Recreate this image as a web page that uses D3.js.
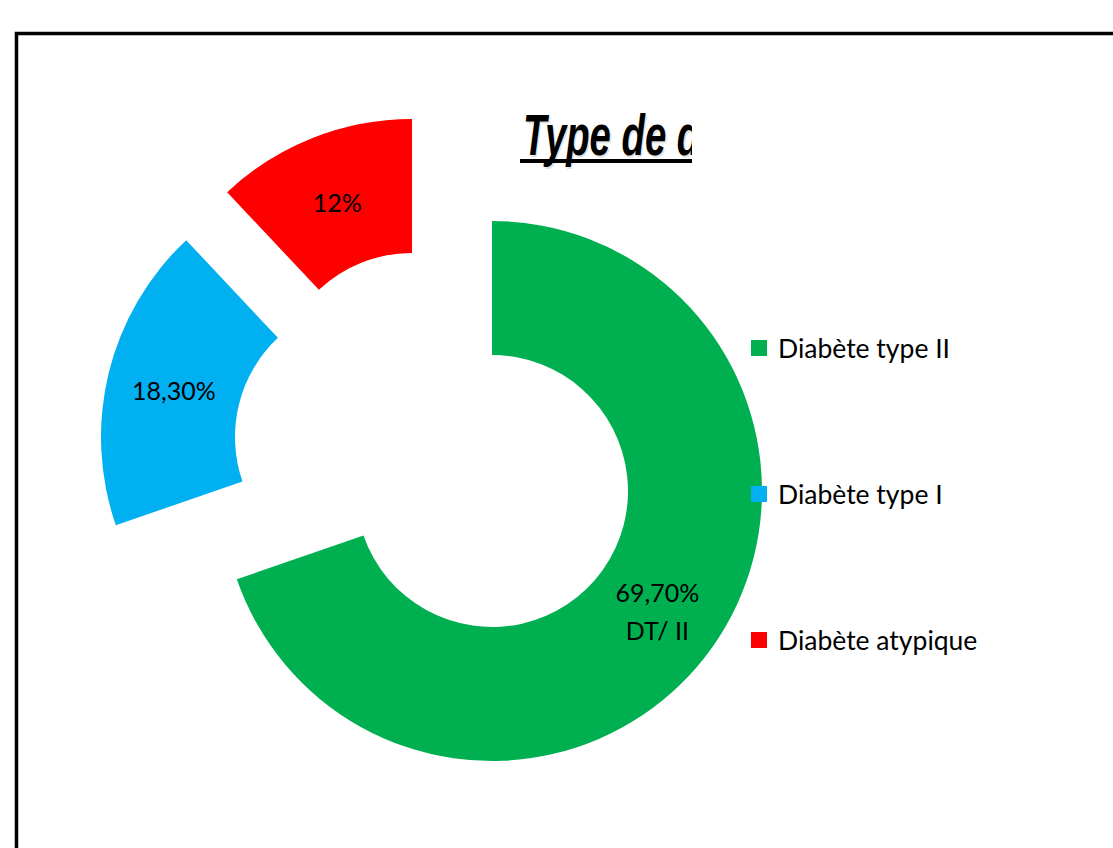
<!DOCTYPE html>
<html><head><meta charset="utf-8">
<script src="https://cdn.jsdelivr.net/npm/d3@7"></script>
<style>html,body{margin:0;padding:0;background:#fff;}svg{display:block;}</style>
</head><body>
<svg id="chart" width="1113" height="848"></svg>
<script>
const categories = ["Diabète type II", "Diabète type I", "Diabète atypique"];
const values = [69.7, 18.3, 12];
const labels = [["69,70%", "DT/ II"], ["18,30%"], ["12%"]];
const colors = ["#00B050", "#00B0F0", "#FF0000"];
const explode = [[0, 0], [-121, -54], [-80, -102]];
const title = "Type de diabète";

const svg = d3.select("#chart");

// border
svg.append("rect").attr("x", 16.5).attr("y", 33.5).attr("width", 1200).attr("height", 1000)
  .attr("fill", "none").attr("stroke", "#000").attr("stroke-width", 3.5);

// title clipped
svg.append("clipPath").attr("id", "tclip").append("rect")
  .attr("x", 0).attr("y", 0).attr("width", 692).attr("height", 200);
const tg = svg.append("g").attr("clip-path", "url(#tclip)");
const tfont = "'Liberation Sans Narrow','Liberation Sans',Arial,sans-serif";
const tt = tg.append("g").attr("transform", "translate(523,155) scale(0.66,1)");
tt.append("text").attr("x", 2).attr("y", 1.5)
  .attr("font-family", tfont).attr("font-weight", "bold").attr("font-style", "italic")
  .attr("font-size", 58).attr("fill", "#bbb").attr("opacity", 0.4)
  .text(title);
tt.append("text").attr("x", 0).attr("y", 0)
  .attr("font-family", tfont).attr("font-weight", "bold").attr("font-style", "italic")
  .attr("font-size", 58).attr("fill", "#000")
  .text(title);
tg.append("rect").attr("x", 520).attr("y", 159).attr("width", 400).attr("height", 4).attr("fill", "#000");

// donut
const cx = 492, cy = 491, rOuter = 270, rInner = 136;
const pie = d3.pie().sort(null).value(d => d);
const arcs = pie(values);
const arc = d3.arc().innerRadius(rInner).outerRadius(rOuter);
const g = svg.append("g").attr("transform", `translate(${cx},${cy})`);
const slices = g.selectAll("g.slice").data(arcs).enter().append("g")
  .attr("class", "slice")
  .attr("transform", (d, i) => `translate(${explode[i][0]},${explode[i][1]})`);
slices.append("path").attr("d", arc).attr("fill", (d, i) => colors[i]);
const lfont = "Lato,'Open Sans',Carlito,Calibri,sans-serif";
slices.each(function(d, i) {
  const c = arc.centroid(d);
  const lines = labels[i];
  const lh = 38;
  const t = d3.select(this).append("text")
    .attr("font-family", lfont).attr("font-size", 25).attr("fill", "#000")
    .attr("text-anchor", "middle");
  lines.forEach((s, k) => {
    t.append("tspan").attr("x", c[0])
      .attr("y", c[1] + (k - (lines.length - 1) / 2) * lh + 12)
      .text(s);
  });
});

// legend
const leg = svg.append("g");
const ly = d3.scalePoint().domain(categories).range([348, 640]);
categories.forEach((cat, i) => {
  leg.append("rect").attr("x", 751).attr("y", ly(cat) - 8).attr("width", 16).attr("height", 16)
    .attr("fill", colors[i]);
  leg.append("text").attr("x", 778).attr("y", ly(cat) + 10)
    .attr("font-family", lfont).attr("font-size", 26.5).attr("fill", "#000")
    .text(cat);
});
</script>
</body></html>
